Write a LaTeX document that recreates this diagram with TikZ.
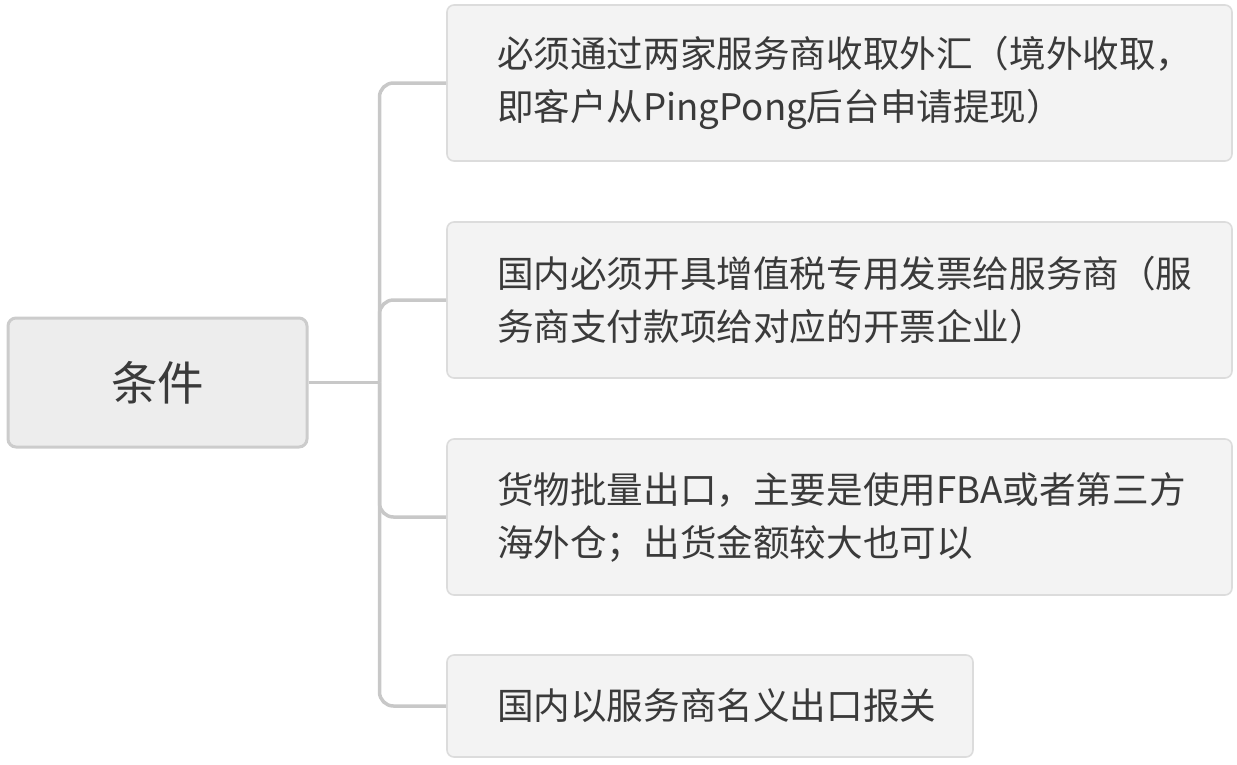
\documentclass[tikz,border=0pt]{standalone}
\usepackage{fontspec}
\setmainfont{Noto Sans CJK SC}
\usetikzlibrary{positioning}
\definecolor{mapInk}{HTML}{3A3A3A}
\definecolor{mapRootFill}{HTML}{EDEDED}
\definecolor{mapRootLine}{HTML}{CCCCCC}
\definecolor{mapLeafFill}{HTML}{F3F3F3}
\definecolor{mapLeafLine}{HTML}{DCDCDC}
\definecolor{mapLink}{HTML}{C8C8C8}
\tikzset{
  every picture/.style={text=mapInk},
  map root/.style={draw=mapRootLine, fill=mapRootFill, line width=3pt,
    rounded corners=8pt, minimum width=299pt, minimum height=129pt,
    font=\fontsize{46.5pt}{54pt}\selectfont},
  map leaf/.style={draw=mapLeafLine, fill=mapLeafFill, line width=1.6pt,
    rounded corners=7pt, minimum height=156pt, text width=685pt,
    inner xsep=50pt, align=left, font=\fontsize{36.6pt}{53pt}\selectfont},
  map link/.style={draw=mapLink, line width=3.5pt, rounded corners=14pt}
}
\begin{document}
\begin{tikzpicture}[x=1pt,y=-1pt]
  \useasboundingbox (0,0) rectangle (1237,764);
  \node[map root] (root) at (157.5,382.5) {条件};
  \node[map leaf] (cash) at (839.5,83)
    {必须通过两家服务商收取外汇（境外收取，\\即客户从PingPong后台申请提现）};
  \node[map leaf] (invoice) at (839.5,300)
    {国内必须开具增值税专用发票给服务商（服\\务商支付款项给对应的开票企业）};
  \node[map leaf] (goods) at (839.5,517)
    {货物批量出口，主要是使用FBA或者第三方\\海外仓；出货金额较大也可以};
  \node[map leaf, minimum height=102pt, text width=426pt] (customs) at (710,706)
    {国内以服务商名义出口报关};
  \coordinate[right=71pt of root.east] (fork);
  \draw[map link, rounded corners=0pt] (root.east) -- (fork);
  \foreach \leaf in {cash,invoice,goods,customs}
    \draw[map link] (fork) |- (\leaf.west);
\end{tikzpicture}
\end{document}
